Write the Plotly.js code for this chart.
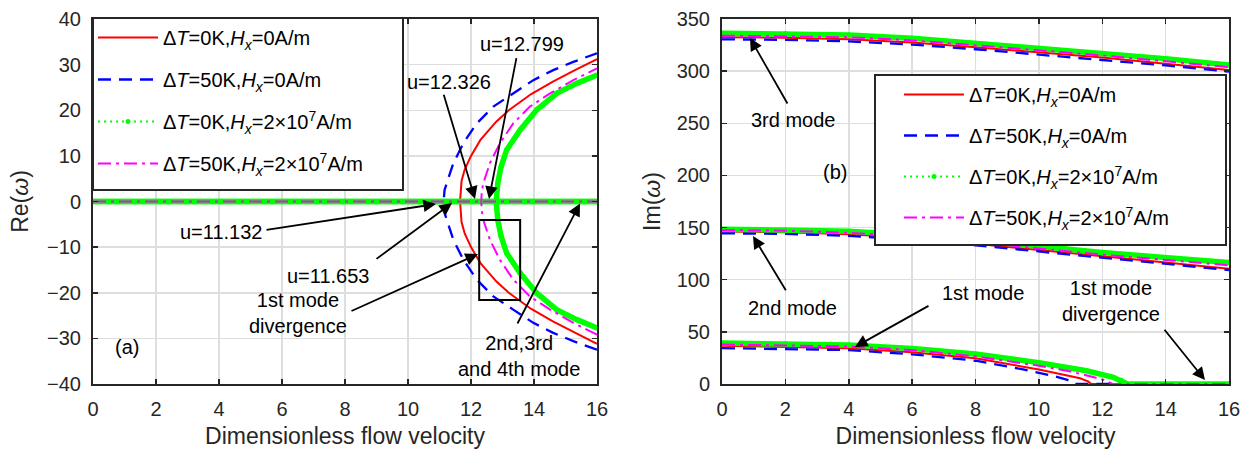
<!DOCTYPE html>
<html>
<head>
<meta charset="utf-8">
<script src="https://cdn.plot.ly/plotly-3.0.1.min.js"></script>
<style>html,body{margin:0;padding:0;background:#fff;}#chart{width:1245px;height:455px;}</style>
</head>
<body>
<div id="chart"></div>
<script>
// ---------- Data ----------
const seriesNames = [
  'Δ<i>T</i>=0K,<i>H</i><sub><i>x</i></sub>=0A/m',
  'Δ<i>T</i>=50K,<i>H</i><sub><i>x</i></sub>=0A/m',
  'Δ<i>T</i>=0K,<i>H</i><sub><i>x</i></sub>=2×10<sup>7</sup>A/m',
  'Δ<i>T</i>=50K,<i>H</i><sub><i>x</i></sub>=2×10<sup>7</sup>A/m'
];

// (a) Re(omega): zero line over whole range, then divergence branch (upper half; lower half mirrored)
const reZeroU = [0, 8, 16];
const reZeroV = [0, 0, 0];
const reU_T0H0  = [11.653, 11.70, 11.80, 12.00, 12.30, 12.80, 13.20, 13.90, 14.60, 15.30, 16.00];
const reV_T0H0  = [0, 4.5, 7.0, 10.0, 13.5, 17.5, 20.0, 23.5, 26.3, 28.8, 31.2];
const reU_T50H0 = [11.132, 11.16, 11.23, 11.44, 11.76, 12.18, 12.71, 13.34, 13.98, 14.61, 15.25, 16.00];
const reV_T50H0 = [0, 2.5, 4.0, 8.4, 12.8, 17.1, 20.8, 23.7, 26.6, 28.8, 30.6, 32.5];
const reU_T0H2  = [12.799, 12.85, 12.95, 13.13, 13.56, 14.09, 14.72, 15.36, 16.00];
const reV_T0H2  = [0, 4.0, 7.5, 11.3, 15.7, 20.1, 23.7, 25.9, 27.7];
const reU_T50H2 = [12.326, 12.34, 12.39, 12.60, 12.92, 13.34, 13.87, 14.51, 15.25, 16.00];
const reV_T50H2 = [0, 2.0, 4.0, 8.4, 12.8, 17.1, 20.8, 23.7, 26.6, 29.2];

// (b) Im(omega)
const imU = [0, 2, 4, 6, 8, 10, 12, 14, 16];
const m3_T0H0  = [332.5, 332.0, 330.5, 327.5, 323.0, 318.0, 313.0, 307.0, 301.0];
const m3_T50H0 = [330.5, 330.0, 328.5, 325.5, 321.0, 316.0, 311.0, 305.5, 299.5];
const m3_T0H2  = [336.3, 336.0, 334.7, 331.5, 326.8, 322.0, 317.2, 312.0, 306.0];
const m3_T50H2 = [334.0, 333.5, 332.5, 329.5, 325.0, 320.0, 315.0, 309.5, 303.8];
const m2_T0H0  = [146.3, 145.5, 143.5, 140.0, 134.5, 128.5, 122.5, 116.5, 110.6];
const m2_T50H0 = [144.5, 144.0, 142.0, 138.5, 133.0, 127.0, 121.0, 115.0, 109.3];
const m2_T0H2  = [148.5, 148.0, 146.5, 143.0, 138.0, 132.0, 126.0, 121.0, 116.4];
const m2_T50H2 = [147.5, 147.0, 145.0, 141.5, 136.0, 130.0, 124.0, 119.0, 113.8];
const m1U_T0H0  = [0, 2, 4, 6, 8, 10, 10.8, 11.3, 11.55, 11.653, 16];
const m1V_T0H0  = [36.6, 35.8, 34.4, 30.5, 24.6, 14.0, 9.0, 5.5, 2.5, 0, 0];
const m1U_T50H0 = [0, 2, 4, 6, 8, 9.5, 10.5, 10.9, 11.132, 16];
const m1V_T50H0 = [34.4, 33.8, 32.5, 28.5, 22.3, 14.0, 7.5, 4.0, 0, 0];
const m1U_T0H2  = [0, 2, 4, 6, 8, 10, 11.5, 12.35, 12.6, 12.799, 16];
const m1V_T0H2  = [39.2, 38.6, 37.3, 34.0, 28.7, 20.5, 12.7, 6.4, 3.5, 0, 0];
const m1U_T50H2 = [0, 2, 4, 6, 8, 10, 11, 11.8, 12.1, 12.326, 16];
const m1V_T50H2 = [37.9, 37.3, 36.0, 32.5, 26.5, 17.5, 12.0, 6.0, 3.5, 0, 0];

// ---------- Styles ----------
const RED = '#ff0000', BLUE = '#0000ff', GREEN = '#00ff00', MAG = '#ff00ff';
const styles = [
  {color: RED, width: 2, dash: 'solid'},
  {color: BLUE, width: 2.3, dash: '13px,8px'},
  {color: GREEN, width: 2, dash: '2px,4px'},
  {color: MAG, width: 2, dash: '13px,5px,3px,5px'}
];

function reTrace(u, v) {
  const xs = [...u.slice().reverse(), ...u.slice(1), null, ...reZeroU];
  const ys = [...v.slice().reverse().map(a => -a), ...v.slice(1), null, ...reZeroV];
  return {x: xs, y: ys};
}
function imTrace(m1u, m1v, m2, m3) {
  return {x: [...m1u, null, ...imU, null, ...imU], y: [...m1v, null, ...m2, null, ...m3]};
}

const reData = [reTrace(reU_T0H0, reV_T0H0), reTrace(reU_T50H0, reV_T50H0),
                reTrace(reU_T0H2, reV_T0H2), reTrace(reU_T50H2, reV_T50H2)];
const imData = [imTrace(m1U_T0H0, m1V_T0H0, m2_T0H0, m3_T0H0),
                imTrace(m1U_T50H0, m1V_T50H0, m2_T50H0, m3_T50H0),
                imTrace(m1U_T0H2, m1V_T0H2, m2_T0H2, m3_T0H2),
                imTrace(m1U_T50H2, m1V_T50H2, m2_T50H2, m3_T50H2)];

const traces = [];
function addSet(data, xa, ya, leg, extraGreen) {
  data.forEach((d, i) => {
    const s = styles[i];
    if (i === 2) {
      // thick underlay imitating the dense dot markers
      traces.push({x: d.x, y: d.y, xaxis: xa, yaxis: ya, mode: 'lines', showlegend: false,
        line: {color: GREEN, width: 5.5}, hoverinfo: 'skip', legend: leg});
      if (extraGreen) {
        traces.push({x: extraGreen[0], y: extraGreen[1], xaxis: xa, yaxis: ya, mode: 'lines', showlegend: false,
          line: {color: GREEN, width: 5.5}, hoverinfo: 'skip', legend: leg});
      }
      traces.push({x: d.x, y: d.y, xaxis: xa, yaxis: ya, mode: 'lines+markers', name: seriesNames[i],
        legend: leg, legendgroup: leg + 'g' + i,
        line: {color: GREEN, width: s.width, dash: s.dash}, marker: {color: GREEN, size: 5}});
    } else {
      traces.push({x: d.x, y: d.y, xaxis: xa, yaxis: ya, mode: 'lines', name: seriesNames[i],
        legend: leg, legendgroup: leg + 'g' + i,
        line: {color: s.color, width: s.width, dash: s.dash}});
    }
  });
}
addSet(reData, 'x', 'y', 'legend', [reZeroU, reZeroV]);
addSet(imData, 'x2', 'y2', 'legend2', null);

// ---------- Layout ----------
const W = 1245, H = 455;
const FONT = 'Liberation Sans, Arial, sans-serif';
const AX = '#262626';
function axisBase() {
  return {ticks: 'inside', ticklen: 5, tickwidth: 1.5, tickcolor: AX,
    showline: true, linewidth: 2, linecolor: AX, mirror: 'ticks',
    showgrid: true, gridcolor: '#dedede', gridwidth: 1.5, zeroline: false,
    tickfont: {family: FONT, size: 20, color: '#262626'}, automargin: false,
    ticklabelstandoff: 6};
}
const titleFont = {family: FONT, size: 23, color: '#262626'};
const yDom = [1 - 384 / H, 1 - 19 / H];
const layout = {
  width: W, height: H, margin: {l: 0, r: 0, t: 0, b: 0},
  paper_bgcolor: '#fff', plot_bgcolor: '#fff',
  font: {family: FONT, size: 20, color: '#000'},
  xaxis: Object.assign(axisBase(), {domain: [93 / W, 597 / W], range: [0, 16], dtick: 2, tick0: 0,
    anchor: 'y', title: {text: 'Dimensionless flow velocity', font: titleFont, standoff: 9}}),
  yaxis: Object.assign(axisBase(), {domain: yDom, range: [-40, 40], dtick: 10, tick0: 0, anchor: 'x',
    title: {text: 'Re(<i>ω</i>)', font: titleFont, standoff: 12}}),
  xaxis2: Object.assign(axisBase(), {domain: [722 / W, 1229 / W], range: [0, 16], dtick: 2, tick0: 0,
    anchor: 'y2', title: {text: 'Dimensionless flow velocity', font: titleFont, standoff: 9}}),
  yaxis2: Object.assign(axisBase(), {domain: yDom, range: [0, 350], dtick: 50, tick0: 0, anchor: 'x2',
    title: {text: 'Im(<i>ω</i>)', font: titleFont, standoff: 10}}),
  legend: {x: 93 / W, y: 1 - 18 / H, xanchor: 'left', yanchor: 'top', bgcolor: 'rgba(0,0,0,0)',
    borderwidth: 0, font: {family: FONT, size: 20, color: '#000'},
    traceorder: 'grouped', tracegroupgap: 13, itemwidth: 60},
  legend2: {x: 899 / W, y: 1 - 75 / H, xanchor: 'left', yanchor: 'top', bgcolor: 'rgba(0,0,0,0)',
    borderwidth: 0, font: {family: FONT, size: 20, color: '#000'},
    traceorder: 'grouped', tracegroupgap: 12, itemwidth: 60},
  shapes: [
    {type: 'rect', xref: 'x', yref: 'y', x0: 12.26, x1: 13.56, y0: -4.05, y1: -21.6,
      line: {color: '#000', width: 2}},
    {type: 'rect', xref: 'paper', yref: 'paper', layer: 'above', x0: 93 / W, x1: 403 / W,
      y0: 1 - 190 / H, y1: 1 - 18 / H, fillcolor: '#fff', line: {color: AX, width: 2}},
    {type: 'rect', xref: 'paper', yref: 'paper', layer: 'above', x0: 875 / W, x1: 1226 / W,
      y0: 1 - 245 / H, y1: 1 - 75 / H, fillcolor: '#fff', line: {color: AX, width: 2}}
  ],
  annotations: []
};

const labels = [
  ['u=12.799', 522, 44], ['u=12.326', 449, 81.7], ['u=11.132', 221, 231.7], ['u=11.653', 328, 276],
  ['1st mode<br>divergence', 298, 313], ['2nd,3rd<br>and 4th mode', 519, 356], ['(a)', 127, 347],
  ['3rd mode', 793, 120], ['(b)', 835, 172], ['2nd mode', 792, 308], ['1st mode', 983, 293],
  ['1st mode<br>divergence', 1111, 301]
];
labels.forEach(l => layout.annotations.push({xref: 'paper', yref: 'paper', x: l[1] / W, y: 1 - l[2] / H,
  xanchor: 'center', yanchor: 'middle', text: l[0], showarrow: false,
  font: {family: FONT, size: 20, color: '#000'}}));

const arrows = [
  [516.7, 56.7, 489, 199], [443.3, 93.3, 475, 199], [265, 230, 436, 204], [375, 260, 452, 203],
  [350, 311.7, 478, 254], [516.7, 325, 580, 203.5],
  [788.3, 105, 750, 38], [786.7, 291.7, 753, 236], [930, 305, 855, 347], [1163.3, 328.3, 1205, 380]
];
arrows.forEach(a => layout.annotations.push({xref: 'paper', yref: 'paper', x: a[2] / W, y: 1 - a[3] / H,
  axref: 'pixel', ayref: 'pixel', ax: a[0] - a[2], ay: a[1] - a[3], text: '', showarrow: true,
  arrowhead: 2, arrowsize: 1.4, arrowwidth: 1.8, arrowcolor: '#000', standoff: 0}));

Plotly.newPlot('chart', traces, layout, {displayModeBar: false, staticPlot: true});
</script>
</body>
</html>
